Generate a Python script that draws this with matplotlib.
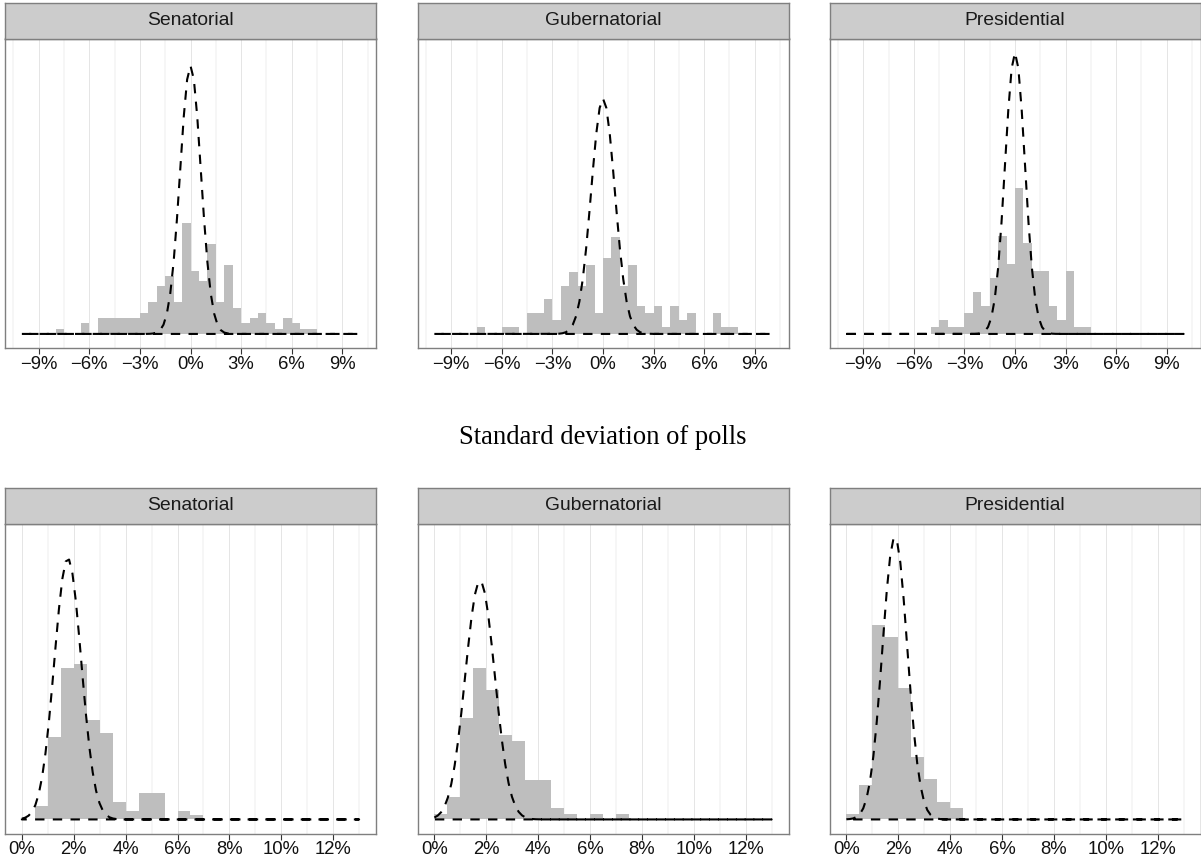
import numpy as np
import matplotlib
matplotlib.use('Agg')
import matplotlib.pyplot as plt

plt.rcParams['font.family'] = ['Liberation Sans', 'DejaVu Sans']

races = ['Senatorial', 'Gubernatorial', 'Presidential']
binwidth = 0.5

# top row: poll error, counts per 0.5% bin starting at err_start
err_start = [-8.0, -7.5, -5.0]
err_counts = [
    [1, 0, 0, 2, 0, 3, 3, 3, 3, 3, 4, 6, 9, 11, 6, 21, 12, 10, 17, 6, 13, 5, 2, 3, 4, 2, 1, 3, 2, 1, 1],
    [1, 0, 0, 1, 1, 0, 3, 3, 5, 2, 7, 9, 7, 10, 3, 11, 14, 7, 10, 4, 3, 4, 1, 4, 2, 3, 0, 0, 3, 1, 1],
    [1, 2, 1, 1, 3, 6, 4, 8, 14, 10, 21, 13, 9, 9, 4, 2, 9, 1, 1],
]
err_mean = [0.0, 0.0, 0.0]
err_sd = [0.617, 0.703, 0.588]

# bottom row: standard deviation of polls
sd_start = [0.5, 0.0, 0.0]
sd_counts = [
    [3, 19, 35, 36, 23, 20, 4, 2, 6, 6, 0, 2, 1],
    [1, 4, 18, 27, 23, 15, 14, 7, 7, 2, 1, 0, 1, 0, 1],
    [1, 6, 34, 32, 23, 11, 7, 3, 2],
]
sd_mean = [1.77, 1.76, 1.87]
sd_sd = [0.519, 0.567, 0.479]

err_ticks = [-9, -6, -3, 0, 3, 6, 9]
err_labels = ['\u22129%', '\u22126%', '\u22123%', '0%', '3%', '6%', '9%']
sd_ticks = [0, 2, 4, 6, 8, 10, 12]
sd_labels = ['0%', '2%', '4%', '6%', '8%', '10%', '12%']

W, H = 1201, 865
fig = plt.figure(figsize=(W / 100, H / 100), dpi=100)


def rect(x0, y0, x1, y1):
    return [x0 / W, 1 - y1 / H, (x1 - x0) / W, (y1 - y0) / H]


def normal(x, mu, sd):
    return np.exp(-0.5 * ((x - mu) / sd) ** 2) / (sd * np.sqrt(2 * np.pi))


def draw_row(starts, counts, means, sds, rng, ticks, labels, minor, strip_y, panel_y):
    xs = np.linspace(rng[0], rng[1], 101)
    curves = [normal(xs, m, s) for m, s in zip(means, sds)]
    dens = [np.array(c) / (sum(c) * binwidth) for c in counts]
    top = max(max(c.max() for c in curves), max(d.max() for d in dens))
    pad_x = 0.05 * (rng[1] - rng[0])
    cols = [(5, 376), (417.5, 788.5), (829.5, 1200.5)]
    for i, (x0, x1) in enumerate(cols):
        ax = fig.add_axes(rect(x0, panel_y[0], x1, panel_y[1]))
        lefts = starts[i] + binwidth * np.arange(len(counts[i]))
        ax.bar(lefts, dens[i], width=binwidth, align='edge', color='#bebebe', linewidth=0, zorder=2)
        # density outline drawn as a closed path (curve, then back along zero)
        px = np.concatenate([xs, xs[::-1], xs[:1]])
        py = np.concatenate([curves[i], np.zeros_like(xs), curves[i][:1]])
        ax.plot(px, py, color='black', lw=1.5, ls=(0, (4.5, 4)), zorder=3)
        ax.set_xlim(rng[0] - pad_x, rng[1] + pad_x)
        ax.set_ylim(-0.05 * top, 1.05 * top)
        ax.set_xticks(ticks)
        ax.set_xticklabels(labels, fontsize=13.3, color='#111111')
        ax.set_xticks(minor, minor=True)
        ax.set_yticks([])
        ax.tick_params(axis='x', which='major', length=4, width=0.8, color='#333333', pad=1.5)
        ax.tick_params(axis='x', which='minor', length=0)
        ax.grid(axis='x', which='major', color='#e5e5e5', lw=0.7, zorder=0)
        ax.grid(axis='x', which='minor', color='#f4f4f4', lw=1.1, zorder=0)
        ax.set_axisbelow(True)
        for sp in ax.spines.values():
            sp.set_color('#7f7f7f')
            sp.set_linewidth(1.0)
        st = fig.add_axes(rect(x0, strip_y[0], x1, strip_y[1]))
        st.set_facecolor('#cccccc')
        st.set_xticks([])
        st.set_yticks([])
        for sp in st.spines.values():
            sp.set_color('#7f7f7f')
            sp.set_linewidth(1.0)
        st.text(0.5, 0.5, races[i], ha='center', va='center', fontsize=13.9,
                color='#1a1a1a', transform=st.transAxes)


draw_row(err_start, err_counts, err_mean, err_sd, (-10, 10), err_ticks, err_labels,
         [-10.5, -7.5, -4.5, -1.5, 1.5, 4.5, 7.5, 10.5], (3, 38.5), (38.5, 348))
draw_row(sd_start, sd_counts, sd_mean, sd_sd, (0, 13), sd_ticks, sd_labels,
         [1, 3, 5, 7, 9, 11, 13], (487.5, 524), (524, 833.5))

fig.text(602.5 / W, 1 - 444 / H, 'Standard deviation of polls', ha='center', va='baseline',
         fontsize=19.2, fontfamily='Liberation Serif', color='black')

fig.savefig('out.png', dpi=100)
